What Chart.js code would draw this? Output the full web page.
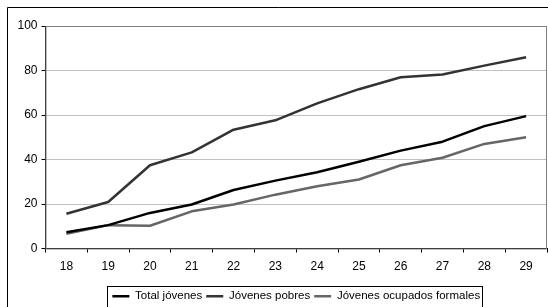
<!DOCTYPE html>
<html>
<head>
<meta charset="utf-8">
<script src="https://cdn.jsdelivr.net/npm/chart.js@4.4.1/dist/chart.umd.min.js"></script>
<style>
  html, body { margin: 0; padding: 0; background: #fff; }
  #wrap { width: 548px; height: 307px; }
</style>
</head>
<body>
<div id="wrap"><canvas id="chart" width="548" height="307"></canvas></div>
<script>
// edades (años)
const ages = ["18", "19", "20", "21", "22", "23", "24", "25", "26", "27", "28", "29"];

const totalJovenes = [7.3, 10.5, 16, 19.8, 26.3, 30.5, 34.3, 39, 44, 48, 55, 59.5];
const jovenesPobres = [15.6, 20.9, 37.4, 43.2, 53.4, 57.6, 65.2, 71.6, 77, 78.2, 82.2, 86];
const jovenesFormales = [6.6, 10.5, 10.2, 16.7, 19.8, 24.2, 28, 31, 37.4, 40.8, 47, 50];

const yTicks = [0, 20, 40, 60, 80, 100];

const font = { family: "'Liberation Sans', Arial, sans-serif", size: 12 };
const legendFont = { family: "'Liberation Sans', Arial, sans-serif", size: 11.5 };
const legendGap = 4;

// recuadro exterior, borde del área de trazado y caja de la leyenda
const framePlugin = {
    id: "frame",
    afterLayout(chart) {
        // la leyenda va centrada bajo el área de trazado, algo más abajo
        const lg = chart.legend;
        const dx = (chart.chartArea.left + chart.chartArea.right) / 2 - (lg.left + lg.right) / 2;
        lg.left += dx;
        lg.right += dx;
        lg.top += 5;
        lg.bottom += 5;
    },
    beforeDatasetsDraw(chart) {
        const { ctx, chartArea } = chart;
        ctx.save();
        ctx.strokeStyle = "#808080";
        ctx.lineWidth = 1;
        ctx.strokeRect(chartArea.left + 0.5, chartArea.top + 0.5,
            chartArea.right - chartArea.left - 1, chartArea.bottom - chartArea.top);
        ctx.restore();
    },
    afterDraw(chart) {
        const { ctx } = chart;
        const lg = chart.legend;
        ctx.save();
        ctx.strokeStyle = "#000";
        ctx.lineWidth = 1;
        ctx.beginPath();
        ctx.moveTo(7.5, chart.height + 5);
        ctx.lineTo(7.5, 7.5);
        ctx.lineTo(chart.width + 5, 7.5);
        ctx.stroke();
        if (lg && lg.legendHitBoxes && lg.legendHitBoxes.length) {
            const boxes = lg.legendHitBoxes;
            let w = 0;
            boxes.forEach(b => { w += b.width; });
            w += legendGap * (boxes.length - 1);
            const cx = (lg.left + lg.right) / 2;
            const l = Math.round(cx - w / 2) - 4.5;
            const r = Math.round(cx + w / 2) + 2.5;
            const t = chart.height - 20.5;
            ctx.strokeRect(l, t, r - l, 30);
        }
        ctx.restore();
    }
};

new Chart(document.getElementById("chart"), {
    type: "line",
    data: {
        labels: ages,
        datasets: [
            {
                label: "Total jóvenes",
                data: totalJovenes,
                borderColor: "#000000",
                backgroundColor: "#000000",
                borderWidth: 2.5
            },
            {
                label: "Jóvenes pobres",
                data: jovenesPobres,
                borderColor: "#333333",
                backgroundColor: "#333333",
                borderWidth: 2.5
            },
            {
                label: "Jóvenes ocupados formales",
                data: jovenesFormales,
                borderColor: "#666666",
                backgroundColor: "#666666",
                borderWidth: 2.5
            }
        ]
    },
    options: {
        responsive: false,
        animation: false,
        devicePixelRatio: 1,
        layout: { padding: { top: 26, left: 8, right: 1, bottom: 0 } },
        elements: {
            point: { radius: 0 },
            line: { tension: 0, borderJoinStyle: "round", borderCapStyle: "butt" }
        },
        scales: {
            x: {
                offset: true,
                grid: {
                    offset: true,
                    drawOnChartArea: false,
                    tickLength: 4,
                    tickColor: "#000",
                    color: "#000"
                },
                border: { color: "#000", width: 1 },
                ticks: { color: "#000", font: font, padding: 7, maxRotation: 0 },
                afterFit(scale) { scale.height = 33; }
            },
            y: {
                min: 0,
                max: 100,
                afterBuildTicks(scale) { scale.ticks = yTicks.map(v => ({ value: v })); },
                grid: {
                    color: "#c0c0c0",
                    tickLength: 4,
                    tickColor: "#000"
                },
                border: { color: "#000", width: 1 },
                ticks: { color: "#000", font: font, padding: 4 },
                afterFit(scale) { scale.width = 37.5; }
            }
        },
        plugins: {
            legend: {
                position: "bottom",
                labels: {
                    color: "#000",
                    font: legendFont,
                    usePointStyle: true,
                    pointStyle: "line",
                    pointStyleWidth: 17,
                    boxHeight: 11,
                    padding: legendGap
                }
            },
            tooltip: { enabled: false }
        }
    },
    plugins: [framePlugin]
});
</script>
</body>
</html>
